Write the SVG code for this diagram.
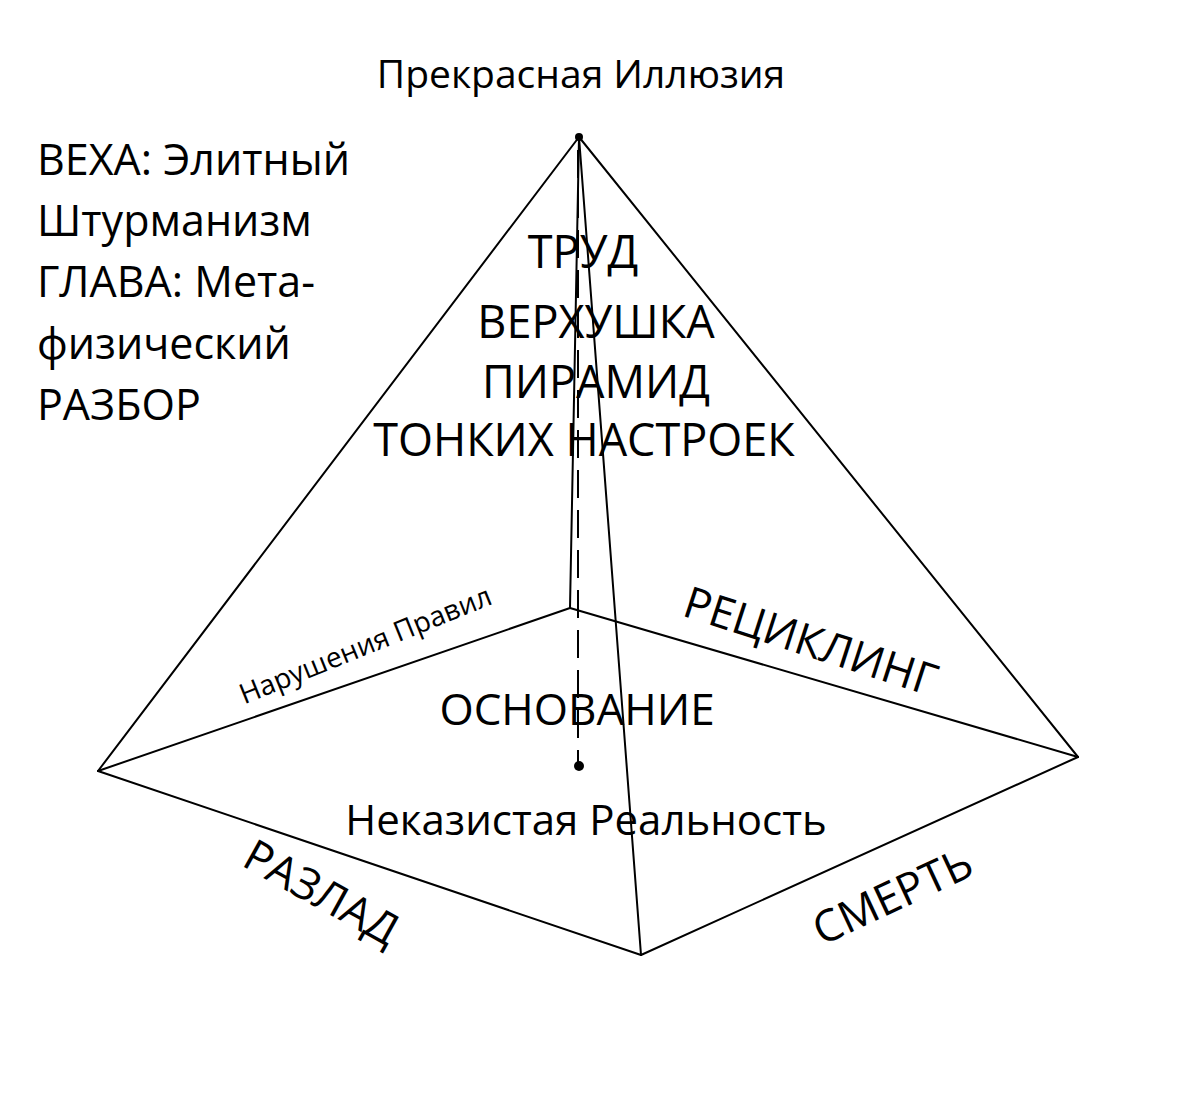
<svg xmlns="http://www.w3.org/2000/svg" width="1200" height="1110" viewBox="0 0 1200 1110">
<style>
text{font-family:"Open Sans","Noto Sans","DejaVu Sans",sans-serif;fill:#000}
.e{stroke:#000;stroke-width:2;fill:none;stroke-linecap:round}
.d{stroke:#000;stroke-width:2;fill:none;stroke-dasharray:28 12}
</style>
<rect width="1200" height="1110" fill="#fff"/>
<g id="edges">
<line class="e" x1="579" y1="137" x2="98" y2="771"/>
<line class="e" x1="579" y1="137" x2="1078" y2="757"/>
<line class="e" x1="579" y1="137" x2="570" y2="608"/>
<line class="e" x1="579" y1="137" x2="641" y2="955"/>
<line class="e" x1="98" y1="771" x2="570" y2="608"/>
<line class="e" x1="570" y1="608" x2="1078" y2="757"/>
<line class="e" x1="1078" y1="757" x2="641" y2="955"/>
<line class="e" x1="641" y1="955" x2="98" y2="771"/>
<line class="d" x1="578" y1="150" x2="578" y2="766"/>
</g>
<g id="apex"><circle cx="579" cy="137" r="4"/><text x="581" y="88" font-size="39" text-anchor="middle">Прекрасная Иллюзия</text></g>
<g id="base-point"><circle cx="579" cy="766" r="5"/><text x="586" y="835" font-size="42" text-anchor="middle">Неказистая Реальность</text></g>
<g id="title"><text font-size="43" x="37"><tspan x="37" y="175">ВЕХА: Элитный</tspan><tspan x="37" y="236">Штурманизм</tspan><tspan x="37" y="297">ГЛАВА: Мета-</tspan><tspan x="37" y="359">физический</tspan><tspan x="37" y="420">РАЗБОР</tspan></text></g>
<g id="top"><text font-size="45" text-anchor="middle"><tspan x="583" y="268">ТРУД</tspan><tspan x="596" y="338">ВЕРХУШКА</tspan><tspan x="596" y="398">ПИРАМИД</tspan><tspan x="584" y="456">ТОНКИХ НАСТРОЕК</tspan></text></g>
<g id="base"><text x="577" y="725" font-size="44" text-anchor="middle">ОСНОВАНИЕ</text></g>
<g id="violations"><text font-size="28" text-anchor="middle" transform="translate(369,654) rotate(-22)">Нарушения Правил</text></g>
<g id="recycling"><text font-size="44" text-anchor="middle" transform="translate(806,656) rotate(18)">РЕЦИКЛИНГ</text></g>
<g id="discord"><text font-size="44" text-anchor="middle" transform="translate(314,906) rotate(29)">РАЗЛАД</text></g>
<g id="death"><text font-size="44" text-anchor="middle" transform="translate(899,910) rotate(-25)">СМЕРТЬ</text></g>
</svg>
